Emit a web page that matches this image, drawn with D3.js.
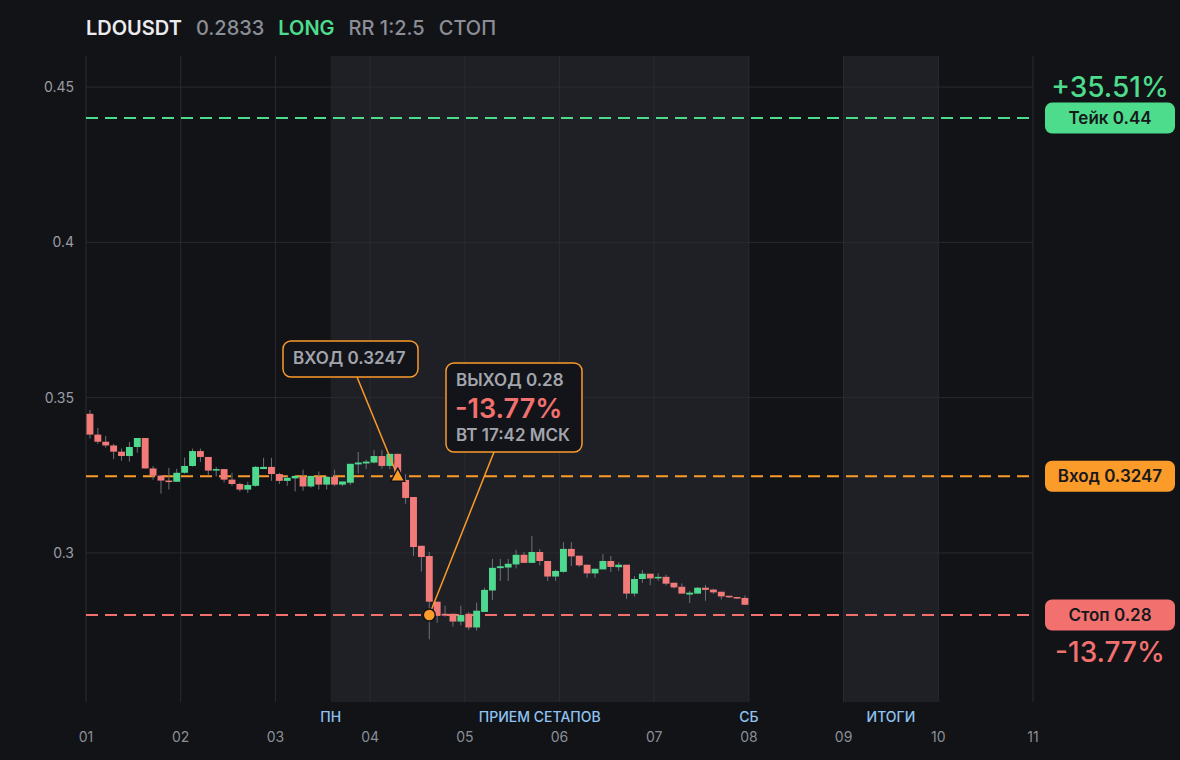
<!DOCTYPE html>
<html>
<head>
<meta charset="utf-8">
<script src="https://cdn.jsdelivr.net/npm/d3@7"></script>
<style>
  html, body { margin: 0; padding: 0; background: #121317; }
  svg { display: block; font-family: Inter, "Noto Sans", sans-serif; }
</style>
</head>
<body>
<div id="chart"></div>
<script>
// LDOUSDT, 2h candles from day 01 00:00 to day 08 00:00
const symbol = "LDOUSDT";
const lastPrice = "0.2833";
const side = "LONG";
const rrText = "RR 1:2.5";
const statusText = "СТОП";

const candleHours = 2;
const opens  = [0.3448,0.3381,0.3358,0.3346,0.3326,0.3312,0.3341,0.3370,0.3272,0.3249,0.3233,0.3229,
                0.3258,0.3280,0.3328,0.3309,0.3265,0.3270,0.3236,0.3222,0.3204,0.3216,0.3270,0.3277,
                0.3254,0.3232,0.3240,0.3245,0.3214,0.3245,0.3220,0.3245,0.3220,0.3226,0.3285,0.3288,
                0.3291,0.3312,0.3280,0.3319,0.3235,0.3180,0.3023,0.2990,0.2843,0.2804,0.2804,0.2779,
                0.2804,0.2760,0.2810,0.2879,0.2951,0.2953,0.2963,0.2994,0.2968,0.3003,0.2974,0.2924,
                0.2939,0.3013,0.2991,0.2962,0.2934,0.2947,0.2974,0.2954,0.2962,0.2869,0.2916,0.2933,
                0.2918,0.2923,0.2904,0.2891,0.2866,0.2869,0.2888,0.2882,0.2875,0.2862,0.2858,0.2855];
const highs  = [0.3460,0.3402,0.3377,0.3351,0.3336,0.3357,0.3370,0.3370,0.3280,0.3251,0.3274,0.3271,
                0.3307,0.3336,0.3336,0.3309,0.3277,0.3270,0.3258,0.3226,0.3229,0.3280,0.3306,0.3306,
                0.3258,0.3249,0.3250,0.3268,0.3248,0.3262,0.3248,0.3268,0.3229,0.3287,0.3325,0.3300,
                0.3331,0.3331,0.3319,0.3319,0.3254,0.3180,0.3023,0.3003,0.2843,0.2830,0.2804,0.2830,
                0.2810,0.2840,0.2888,0.2981,0.2981,0.2981,0.3010,0.3003,0.3055,0.3012,0.2974,0.2946,
                0.3035,0.3035,0.2991,0.2962,0.2949,0.2996,0.2990,0.2970,0.2962,0.2925,0.2945,0.2933,
                0.2935,0.2930,0.2904,0.2902,0.2878,0.2890,0.2897,0.2885,0.2875,0.2862,0.2858,0.2863];
const lows   = [0.3368,0.3351,0.3339,0.3302,0.3297,0.3294,0.3323,0.3272,0.3236,0.3191,0.3204,0.3229,
                0.3255,0.3278,0.3293,0.3249,0.3246,0.3227,0.3216,0.3198,0.3193,0.3213,0.3270,0.3232,
                0.3222,0.3216,0.3198,0.3200,0.3210,0.3204,0.3204,0.3215,0.3215,0.3219,0.3256,0.3270,
                0.3288,0.3271,0.3270,0.3238,0.3158,0.2990,0.2940,0.2722,0.2775,0.2795,0.2763,0.2767,
                0.2752,0.2750,0.2810,0.2848,0.2910,0.2910,0.2950,0.2968,0.2968,0.2960,0.2910,0.2910,
                0.2936,0.2958,0.2955,0.2920,0.2920,0.2947,0.2939,0.2942,0.2852,0.2860,0.2903,0.2896,
                0.2910,0.2895,0.2885,0.2869,0.2839,0.2869,0.2846,0.2868,0.2850,0.2855,0.2852,0.2833];
const closes = [0.3381,0.3358,0.3346,0.3326,0.3312,0.3341,0.3370,0.3272,0.3249,0.3233,0.3229,0.3258,
                0.3280,0.3328,0.3309,0.3265,0.3270,0.3236,0.3222,0.3204,0.3219,0.3277,0.3277,0.3254,
                0.3232,0.3242,0.3248,0.3214,0.3248,0.3220,0.3245,0.3220,0.3230,0.3287,0.3291,0.3294,
                0.3312,0.3280,0.3319,0.3240,0.3177,0.3019,0.2987,0.2843,0.2798,0.2798,0.2779,0.2800,
                0.2760,0.2814,0.2881,0.2952,0.2957,0.2965,0.2994,0.2968,0.3003,0.2974,0.2924,0.2942,
                0.3013,0.2989,0.2960,0.2934,0.2949,0.2974,0.2955,0.2962,0.2869,0.2916,0.2933,0.2918,
                0.2923,0.2901,0.2889,0.2869,0.2872,0.2888,0.2881,0.2873,0.2860,0.2857,0.2854,0.2833];

// trade levels
const takePrice = 0.44;
const entryPrice = 0.3247;
const stopPrice = 0.28;
const takePct = "+35.51%";
const stopPct = "-13.77%";
const entryCandle = 39;   // index of candle with entry
const exitCandle = 43;    // index of candle with exit
const exitTime = "ВТ 17:42 МСК";

// axis
const dayTicks = [1, 2, 3, 4, 5, 6, 7, 8, 9, 10, 11];
const dayLabels = ["01","02","03","04","05","06","07","08","09","10","11"];
const priceTicks = [0.45, 0.4, 0.35, 0.3];
const priceLabels = ["0.45", "0.4", "0.35", "0.3"];

// week zones (day values)
const zoneStarts = [3 + 14/24, 9];
const zoneEnds   = [8, 10];
const markerDays   = [3 + 14/24, (3 + 14/24 + 8) / 2, 8, 9.5];
const markerLabels = ["ПН", "ПРИЕМ СЕТАПОВ", "СБ", "ИТОГИ"];

////////////////////////////////////////////////////////////////////////

const W = 1180, H = 760;
const green = "#4ddc8c", red = "#f2716f", orange = "#fb9b2a";
const candleGreen = "#4fd98e", candleRed = "#f27a78";

let x = d3.scaleLinear().domain([1, 11]).range([86, 1033]);
let y = d3.scaleLinear().domain([0.252, 0.46]).range([702, 56]);

const svg = d3.select("#chart").append("svg")
  .attr("width", W).attr("height", H);

svg.append("rect").attr("width", W).attr("height", H).attr("fill", "#121317");

// header
let hx = 86;
[[symbol, "#ececef", 600], [lastPrice, "#8b8e96", 500], [side, green, 600],
 [rrText, "#8b8e96", 500], [statusText, "#8b8e96", 500]].forEach(function(h) {
  let t = svg.append("text")
    .attr("x", hx).attr("y", 35)
    .attr("font-size", 20).attr("font-weight", h[2])
    .attr("fill", h[1])
    .text(h[0]);
  hx += t.node().getComputedTextLength() + 14;
});

// shaded zones
zoneStarts.forEach(function(s, i) {
  svg.append("rect")
    .attr("x", x(s)).attr("y", y(0.46))
    .attr("width", x(zoneEnds[i]) - x(s))
    .attr("height", y(0.252) - y(0.46))
    .attr("fill", "#1f2025");
});

// grid
svg.append("g").selectAll("line").data(dayTicks).enter().append("line")
  .attr("x1", d => x(d)).attr("x2", d => x(d))
  .attr("y1", y(0.46)).attr("y2", y(0.252))
  .attr("stroke", "#2a2b31").attr("stroke-width", 1);
svg.append("g").selectAll("line").data(priceTicks).enter().append("line")
  .attr("x1", x(1)).attr("x2", x(11))
  .attr("y1", d => y(d)).attr("y2", d => y(d))
  .attr("stroke", "#2a2b31").attr("stroke-width", 1);

// axes labels
svg.append("g").selectAll("text").data(priceTicks).enter().append("text")
  .attr("x", 74).attr("y", d => y(d) + 5)
  .attr("text-anchor", "end").attr("font-size", 14)
  .attr("fill", "#9a9ca4")
  .text((d, i) => priceLabels[i]);
svg.append("g").selectAll("text").data(dayTicks).enter().append("text")
  .attr("x", d => x(d)).attr("y", 742)
  .attr("text-anchor", "middle").attr("font-size", 14)
  .attr("fill", "#8b8e96")
  .text((d, i) => dayLabels[i]);
svg.append("g").selectAll("text").data(markerDays).enter().append("text")
  .attr("x", d => x(d)).attr("y", 722)
  .attr("text-anchor", "middle").attr("font-size", 14).attr("font-weight", 500)
  .attr("fill", "#8ec3f2")
  .text((d, i) => markerLabels[i]);

// level lines
[[takePrice, green], [entryPrice, orange], [stopPrice, red]].forEach(function(l) {
  svg.append("line")
    .attr("x1", x(1)).attr("x2", 1030)
    .attr("y1", y(l[0])).attr("y2", y(l[0]))
    .attr("stroke", l[1]).attr("stroke-width", 2)
    .attr("stroke-dasharray", "12,7");
});

// candles
let candles = opens.map((o, i) => ({
  t: 1 + (i * candleHours + candleHours / 2) / 24,
  o: o, h: highs[i], l: lows[i], c: closes[i]
}));
let bw = x(1 + candleHours / 24) - x(1) - 1;

let cg = svg.append("g").selectAll("g").data(candles).enter().append("g");
cg.append("line")
  .attr("x1", d => x(d.t)).attr("x2", d => x(d.t))
  .attr("y1", d => y(d.h)).attr("y2", d => y(d.l))
  .attr("stroke", "#6e7077").attr("stroke-width", 1);
cg.append("rect")
  .attr("x", d => x(d.t) - bw / 2)
  .attr("y", d => y(Math.max(d.o, d.c)))
  .attr("width", bw)
  .attr("height", d => Math.max(1.5, Math.abs(y(d.o) - y(d.c))))
  .attr("fill", d => d.c >= d.o ? candleGreen : candleRed);

// entry / exit markers
let ex = x(candles[entryCandle].t), ey = y(entryPrice);
let xx = x(candles[exitCandle].t), xy = y(stopPrice);

svg.append("line")
  .attr("x1", 357).attr("y1", 377).attr("x2", ex).attr("y2", ey)
  .attr("stroke", orange).attr("stroke-width", 1.5);
svg.append("line")
  .attr("x1", 494).attr("y1", 452).attr("x2", xx).attr("y2", xy)
  .attr("stroke", orange).attr("stroke-width", 1.5);

svg.append("path")
  .attr("d", `M ${ex} ${ey - 8} L ${ex + 7} ${ey + 5} L ${ex - 7} ${ey + 5} Z`)
  .attr("fill", orange).attr("stroke", "#121317").attr("stroke-width", 1.5);
svg.append("circle")
  .attr("cx", xx).attr("cy", xy).attr("r", 6)
  .attr("fill", orange).attr("stroke", "#121317").attr("stroke-width", 1.5);

// callouts
svg.append("rect")
  .attr("x", 283).attr("y", 341).attr("width", 135).attr("height", 36).attr("rx", 8)
  .attr("fill", "#131419").attr("stroke", orange).attr("stroke-width", 1.5);
svg.append("text")
  .attr("x", 293).attr("y", 364)
  .attr("font-size", 17).attr("font-weight", 600).attr("fill", "#a3a5ad")
  .text("ВХОД " + entryPrice);

svg.append("rect")
  .attr("x", 446).attr("y", 363).attr("width", 136).attr("height", 89).attr("rx", 8)
  .attr("fill", "#131419").attr("stroke", orange).attr("stroke-width", 1.5);
svg.append("text")
  .attr("x", 456).attr("y", 386)
  .attr("font-size", 17).attr("font-weight", 600).attr("fill", "#a3a5ad")
  .text("ВЫХОД " + stopPrice);
svg.append("text")
  .attr("x", 455).attr("y", 418)
  .attr("font-size", 27).attr("font-weight", 600).attr("fill", red)
  .text(stopPct);
svg.append("text")
  .attr("x", 456).attr("y", 441)
  .attr("font-size", 17).attr("font-weight", 600).attr("fill", "#a3a5ad")
  .text(exitTime);

// right side tags
[["Тейк " + takePrice, takePrice, green], ["Вход " + entryPrice, entryPrice, orange],
 ["Стоп " + stopPrice, stopPrice, red]].forEach(function(t) {
  svg.append("rect")
    .attr("x", 1045).attr("y", y(t[1]) - 15.5)
    .attr("width", 130).attr("height", 31).attr("rx", 7)
    .attr("fill", t[2]);
  svg.append("text")
    .attr("x", 1110).attr("y", y(t[1]) + 6)
    .attr("text-anchor", "middle")
    .attr("font-size", 17).attr("font-weight", 600).attr("fill", "#17181c")
    .text(t[0]);
});
svg.append("text")
  .attr("x", 1110).attr("y", y(takePrice) - 21)
  .attr("text-anchor", "middle").attr("font-size", 28).attr("font-weight", 500)
  .attr("fill", green).text(takePct);
svg.append("text")
  .attr("x", 1110).attr("y", y(stopPrice) + 47)
  .attr("text-anchor", "middle").attr("font-size", 28).attr("font-weight", 500)
  .attr("fill", red).text(stopPct);
</script>
</body>
</html>
